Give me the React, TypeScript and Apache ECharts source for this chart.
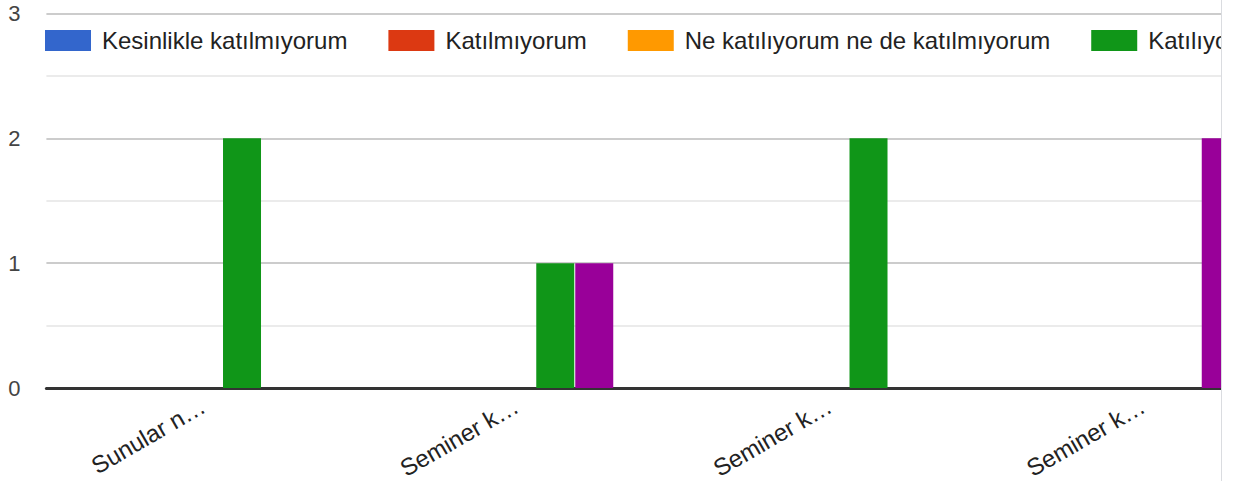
import React, { useEffect, useRef } from "react";
import * as echarts from "echarts";

const categories = ["Sunular n\u2026", "Seminer k\u2026", "Seminer k\u2026", "Seminer k\u2026"];
const seriesNames = [
  "Kesinlikle katılmıyorum",
  "Katılmıyorum",
  "Ne katılıyorum ne de katılmıyorum",
  "Katılıyorum",
  "Kesinlikle katılıyorum",
];
const kesinlikleKatilmiyorum = [0, 0, 0, 0];
const katilmiyorum = [0, 0, 0, 0];
const neKatiliyorum = [0, 0, 0, 0];
const katiliyorum = [2, 1, 2, 0];
const kesinlikleKatiliyorum = [0, 1, 0, 2];
const seriesValues = [kesinlikleKatilmiyorum, katilmiyorum, neKatiliyorum, katiliyorum, kesinlikleKatiliyorum];
const colors = ["#3366cc", "#dc3912", "#ff9900", "#109618", "#990099"];
const yTicks = { min: 0, max: 3, interval: 1 };

const FONT = "Arial, 'Liberation Sans', sans-serif";

export default function App() {
  const ref = useRef<HTMLDivElement>(null);
  useEffect(() => {
    if (!ref.current) return;
    const chart = echarts.init(ref.current, null, { renderer: "svg" });
    chart.setOption({
      animation: false,
      color: colors,
      textStyle: { fontFamily: FONT },
      legend: {
        left: 45,
        top: 28.5,
        padding: 0,
        itemWidth: 46,
        itemHeight: 21,
        itemGap: 41,
        icon: "rect",
        selectedMode: false,
        textStyle: {
          fontSize: 24,
          color: "#222222",
          fontFamily: FONT,
          lineHeight: 21,
          padding: [0, 0, 0, 6],
        },
        data: seriesNames,
      },
      grid: {
        left: 46.4,
        width: 1253,
        top: 13.5,
        height: 374.5,
        containLabel: false,
        outerBoundsMode: "none",
      },
      xAxis: {
        type: "category",
        data: categories,
        axisLine: { show: true, lineStyle: { color: "#333333", width: 3 } },
        axisTick: { show: false },
        axisLabel: {
          rotate: 30,
          fontSize: 24,
          color: "#222222",
          fontFamily: FONT,
          margin: 16,
          interval: 0,
        },
      },
      yAxis: {
        type: "value",
        min: yTicks.min,
        max: yTicks.max,
        interval: yTicks.interval,
        axisLine: { show: false },
        axisTick: { show: false },
        axisLabel: { fontSize: 22, color: "#444444", fontFamily: FONT, margin: 26 },
        splitLine: { show: true, lineStyle: { color: "#cccccc", width: 2 } },
        minorTick: { show: false, splitNumber: 2 },
        minorSplitLine: { show: true, lineStyle: { color: "#ebebeb", width: 2 } },
      },
      series: seriesNames.map((name, i) => ({
        name,
        type: "bar",
        data: seriesValues[i],
        barWidth: 38,
        barGap: "2.6%",
        itemStyle: { color: colors[i] },
      })),
    });
    return () => chart.dispose();
  }, []);
  return (
    <div
      style={{
        position: "absolute",
        left: 0,
        top: 0,
        width: 1222,
        height: 481,
        overflow: "hidden",
        boxSizing: "border-box",
        borderRight: "1px solid #dadce0",
        background: "#ffffff",
      }}
    >
      <div ref={ref} style={{ width: 1700, height: 481 }} />
    </div>
  );
}
